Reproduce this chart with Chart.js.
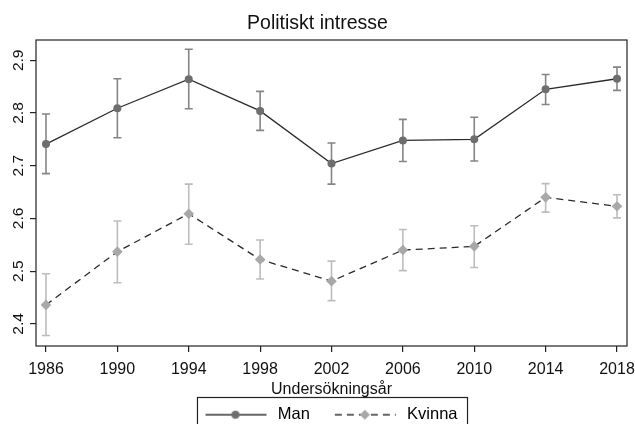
<html>
<head>
    <meta charset="utf-8" />
    <script src="https://cdn.jsdelivr.net/npm/chart.js@4.4.1/dist/chart.umd.min.js"></script>
    <title>Politiskt intresse</title>
    <style>
        html, body { margin: 0; padding: 0; background: #fff; }
        #wrap { width: 635px; height: 424px; }
    </style>
</head>
<body>
    <div id="wrap"><canvas id="line-chart"></canvas></div>
    <script>
        // survey years and mean values, with 95% CI limits
        const years = [1986, 1990, 1994, 1998, 2002, 2006, 2010, 2014, 2018];
        const man = [2.741, 2.809, 2.864, 2.804, 2.704, 2.748, 2.750, 2.845, 2.865];
        const manLow = [2.685, 2.753, 2.808, 2.767, 2.665, 2.708, 2.709, 2.816, 2.843];
        const manHigh = [2.798, 2.865, 2.921, 2.841, 2.743, 2.788, 2.792, 2.873, 2.887];
        const kvinna = [2.436, 2.537, 2.609, 2.522, 2.481, 2.540, 2.547, 2.640, 2.623];
        const kvinnaLow = [2.378, 2.478, 2.551, 2.485, 2.444, 2.501, 2.507, 2.612, 2.601];
        const kvinnaHigh = [2.495, 2.595, 2.665, 2.559, 2.519, 2.579, 2.586, 2.666, 2.645];
        const yTicks = [2.4, 2.5, 2.6, 2.7, 2.8, 2.9];

        const FONT = "'Liberation Sans', Arial, Helvetica, sans-serif";
        const manColor = "#6e6e6e", manCi = "#858585";
        const kvColor = "#a8a8a8", kvCi = "#bdbdbd";

        // legend symbols: line with marker in the middle
        function legendSymbol(dashed, diamond, fill) {
            const c = document.createElement("canvas");
            c.width = 80; c.height = 14;
            const g = c.getContext("2d");
            g.strokeStyle = "#333"; g.lineWidth = 1.3;
            if (dashed) g.setLineDash([7, 5]);
            g.beginPath(); g.moveTo(16, 7); g.lineTo(77, 7); g.stroke();
            g.setLineDash([]);
            g.fillStyle = fill;
            g.beginPath();
            if (diamond) {
                g.moveTo(46, 2); g.lineTo(51, 7); g.lineTo(46, 12); g.lineTo(41, 7);
                g.closePath();
            } else {
                g.arc(46, 7, 4, 0, Math.PI * 2);
            }
            g.fill();
            return c;
        }

        const errorBars = {
            id: "errorBars",
            afterLayout(chart) {
                // legend sits a little right of centre in the original
                chart.legend.left += 6;
                chart.legend.right += 6;
            },
            beforeDatasetsDraw(chart) {
                const ctx = chart.ctx, x = chart.scales.x, y = chart.scales.y;
                const sets = [[manLow, manHigh, manCi], [kvinnaLow, kvinnaHigh, kvCi]];
                ctx.save();
                ctx.lineWidth = 1.6;
                sets.forEach(s => {
                    ctx.strokeStyle = s[2];
                    for (let i = 0; i < years.length; i++) {
                        const px = x.getPixelForValue(years[i]);
                        const lo = y.getPixelForValue(s[0][i]);
                        const hi = y.getPixelForValue(s[1][i]);
                        ctx.beginPath();
                        ctx.moveTo(px, lo); ctx.lineTo(px, hi);
                        ctx.moveTo(px - 4, lo); ctx.lineTo(px + 4, lo);
                        ctx.moveTo(px - 4, hi); ctx.lineTo(px + 4, hi);
                        ctx.stroke();
                    }
                });
                ctx.restore();
            },
            afterDraw(chart) {
                const ctx = chart.ctx, a = chart.chartArea;
                ctx.save();
                ctx.strokeStyle = "#222"; ctx.lineWidth = 1.2;
                ctx.strokeRect(a.left, a.top, a.right - a.left, a.bottom - a.top);
                // frame round the legend
                const hb = chart.legend.legendHitBoxes;
                const l = hb[0].left + 8, r = hb[hb.length - 1].left + hb[hb.length - 1].width + 10;
                ctx.strokeRect(l, 397.5, r - l, 40);
                ctx.restore();
            }
        };

        new Chart(document.getElementById("line-chart"), {
            type: "line",
            data: {
                datasets: [
                    {
                        label: "Man",
                        data: years.map((v, i) => ({ x: v, y: man[i] })),
                        borderColor: "#2b2b2b",
                        borderWidth: 1.3,
                        pointStyle: "circle",
                        pointRadius: 4,
                        pointBackgroundColor: manColor,
                        pointBorderWidth: 0,
                        tension: 0,
                        fill: false
                    },
                    {
                        label: "Kvinna",
                        data: years.map((v, i) => ({ x: v, y: kvinna[i] })),
                        borderColor: "#2b2b2b",
                        borderWidth: 1.3,
                        borderDash: [7, 5],
                        pointStyle: "rectRot",
                        pointRadius: 5.3,
                        pointBackgroundColor: kvColor,
                        pointBorderWidth: 0,
                        tension: 0,
                        fill: false
                    }
                ]
            },
            options: {
                responsive: true,
                maintainAspectRatio: false,
                animation: false,
                layout: { padding: { left: 0, right: 0, top: 0, bottom: -9 } },
                plugins: {
                    title: {
                        display: true,
                        text: "Politiskt intresse",
                        color: "#111",
                        font: { family: FONT, size: 19.5, weight: "normal" },
                        padding: { top: 12, bottom: 4.6 }
                    },
                    legend: {
                        display: true,
                        position: "bottom",
                        labels: {
                            usePointStyle: true,
                            pointStyleWidth: 80,
                            padding: 9,
                            color: "#111",
                            font: { family: FONT, size: 16.5 },
                            generateLabels(chart) {
                                return [
                                    { text: "Man", pointStyle: legendSymbol(false, false, manColor), datasetIndex: 0, lineWidth: 0, hidden: false },
                                    { text: "Kvinna", pointStyle: legendSymbol(true, true, kvColor), datasetIndex: 1, lineWidth: 0, hidden: false }
                                ];
                            }
                        }
                    },
                    tooltip: { enabled: false }
                },
                scales: {
                    x: {
                        type: "linear",
                        min: 1985.44,
                        max: 2018.56,
                        afterBuildTicks(scale) { scale.ticks = years.map(v => ({ value: v })); },
                        afterFit(scale) {
                            scale.height = 51.5;
                            scale.paddingLeft = 0;
                            scale.paddingRight = 8;
                        },
                        grid: { drawOnChartArea: false, drawTicks: true, tickLength: 6, color: "#222", lineWidth: 1.2 },
                        border: { display: false },
                        ticks: {
                            color: "#111",
                            padding: 8,
                            maxRotation: 0,
                            autoSkip: false,
                            font: { family: FONT, size: 16 },
                            callback: v => String(v)
                        },
                        title: {
                            display: true,
                            text: "Undersökningsår",
                            color: "#111",
                            font: { family: FONT, size: 16 },
                            padding: { top: 0, bottom: -2 }
                        }
                    },
                    y: {
                        min: 2.358,
                        max: 2.9385,
                        afterBuildTicks(scale) { scale.ticks = yTicks.map(v => ({ value: v })); },
                        afterFit(scale) { scale.width = 36; },
                        grid: { drawOnChartArea: false, drawTicks: true, tickLength: 6, color: "#222", lineWidth: 1.2 },
                        border: { display: false },
                        ticks: {
                            color: "#111",
                            padding: 0.5,
                            minRotation: 90,
                            maxRotation: 90,
                            crossAlign: "center",
                            font: { family: FONT, size: 15.5 },
                            callback: v => v.toFixed(1)
                        }
                    }
                }
            },
            plugins: [errorBars]
        });
    </script>
</body>
</html>
